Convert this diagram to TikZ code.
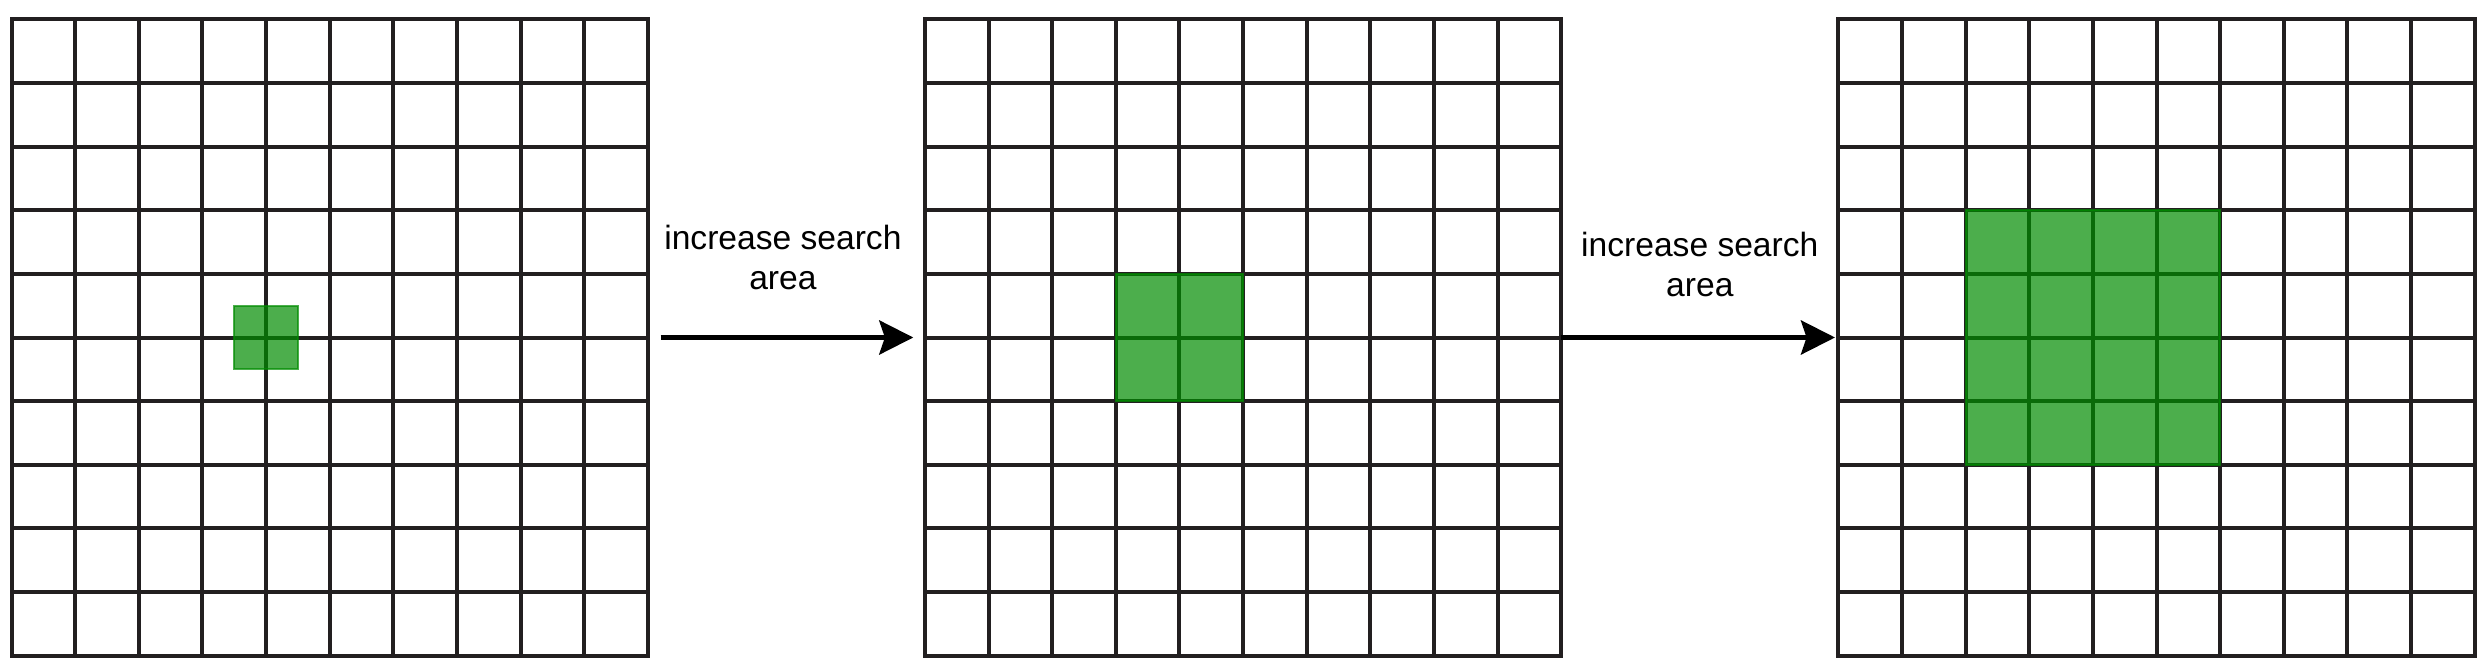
\documentclass[tikz,border=0pt]{standalone}
\usepackage{fontspec}
\setmainfont{Liberation Sans}
\usetikzlibrary{positioning, arrows.meta, calc}
\definecolor{gridgray}{RGB}{34,31,32}
\definecolor{searchgreen}{RGB}{0,140,0}
\newcommand{\cellsz}{63.64}
\tikzset{
  gridbox/.style={
    rectangle, draw=gridgray, line width=2pt,
    minimum size=318.2pt, inner sep=0pt, outer sep=0pt
  },
  gridline/.style={draw=gridgray, line width=2pt},
  area/.style={
    fill=searchgreen, fill opacity=0.7,
    draw=searchgreen, draw opacity=0.7, line width=1pt
  },
  steplabel/.style={
    align=center, inner sep=0pt, text depth=0pt,
    font=\fontsize{16.8pt}{20pt}\selectfont
  },
  arrow/.style={line width=2.5pt, -{Stealth[length=17pt, width=17pt, inset=2.8pt]}}
}

\begin{document}
\begin{tikzpicture}[x=0.5pt, y=-0.5pt]
\useasboundingbox (0,0) rectangle (2488,668);

% ==============================================================================
% Grids
% ==============================================================================
\node[gridbox, anchor=north west] (g1) at (11.5,19.3) {};
\node[gridbox, right=138.5pt of g1] (g2) {};
\node[gridbox, right=138.5pt of g2] (g3) {};

\foreach \g in {g1,g2,g3}
  \foreach \k in {1,...,9} {
    \draw[gridline] ($(\g.north west)!\k/10!(\g.north east)$) -- ($(\g.south west)!\k/10!(\g.south east)$);
    \draw[gridline] ($(\g.north west)!\k/10!(\g.south west)$) -- ($(\g.north east)!\k/10!(\g.south east)$);
  }

% ==============================================================================
% Search areas
% ==============================================================================
\draw[area] ($(g1.north west)+(3.5*\cellsz,4.5*\cellsz)$) rectangle ++(\cellsz,\cellsz);
\draw[area] ($(g2.north west)+(3*\cellsz,4*\cellsz)$) rectangle ++(2*\cellsz,2*\cellsz);
\draw[area] ($(g3.north west)+(2*\cellsz,3*\cellsz)$) rectangle ++(4*\cellsz,4*\cellsz);

% ==============================================================================
% Arrows
% ==============================================================================
\draw[arrow, shorten <=6.4pt, shorten >=5.8pt] (g1.east) -- (g2.west)
  node[steplabel, midway, above=22.6pt, xshift=-1.75pt] (inc1) {increase search\\area};
\draw[arrow, shorten >=1.65pt] (g2.east) -- (g3.west)
  node[steplabel, midway, above=19.5pt] (inc2) {increase search\\area};

\end{tikzpicture}
\end{document}
